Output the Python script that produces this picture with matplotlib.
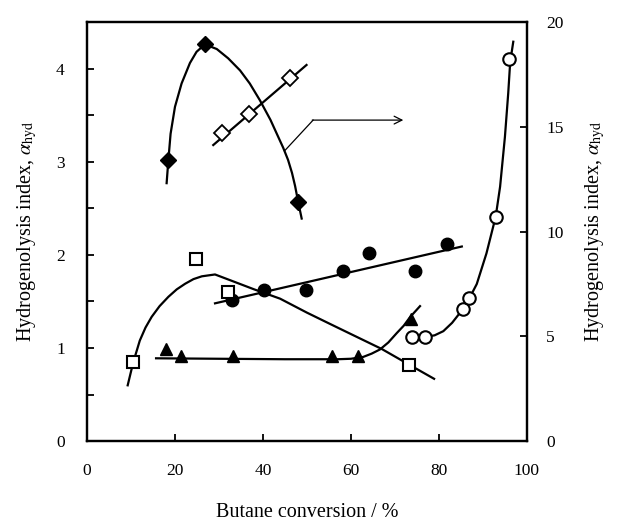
import matplotlib
matplotlib.use("Agg")
import matplotlib.pyplot as plt
from matplotlib.ticker import MultipleLocator

plt.rcParams["font.family"] = ["Liberation Serif", "DejaVu Serif"]
plt.rcParams["mathtext.fontset"] = "stix"

# --- measured points (left axis) ---
diam_x = [18.5, 26.8, 48.0]
diam_y = [3.02, 4.26, 2.57]

circ_x = [32.9, 40.2, 49.8, 58.3, 64.2, 74.5, 81.9]
circ_y = [1.52, 1.62, 1.62, 1.83, 2.02, 1.83, 2.12]

sq_x = [10.5, 24.7, 32.0, 73.3]
sq_y = [0.845, 1.96, 1.60, 0.82]

tri_x = [18.0, 21.3, 33.3, 55.6, 61.7, 73.6]
tri_y = [0.995, 0.91, 0.91, 0.91, 0.91, 1.31]

# --- measured points (right axis) ---
odiam_x = [30.6, 36.8, 46.1]
odiam_y = [14.69, 15.61, 17.31]

ocirc_x = [73.8, 76.8, 85.5, 86.9, 92.9, 96.0]
ocirc_y = [4.98, 4.98, 6.33, 6.81, 10.71, 18.23]

# --- trend curves ---
diam_fit_x = [18.1, 18.5, 19.0, 20.0, 21.5, 23.4, 24.9, 26.8, 29.5, 32.1, 34.8,
              37.0, 39.3, 41.7, 44.6, 45.7, 46.6, 47.3, 48.0, 48.8]
diam_fit_y = [2.77, 3.02, 3.30, 3.59, 3.84, 4.06, 4.18, 4.26, 4.21, 4.11, 3.98,
              3.84, 3.66, 3.45, 3.15, 3.02, 2.88, 2.74, 2.57, 2.39]

circ_fit_x = [29.1, 85.2]
circ_fit_y = [1.48, 2.09]

sq_fit_x = [9.25, 10.5, 12.0, 13.3, 14.7, 16.5, 18.5, 20.4, 22.3, 24.2, 26.1, 29.1,
            33.0, 38.0, 43.9, 50.0, 55.2, 60.0, 67.0, 73.3, 78.9]
sq_fit_y = [0.60, 0.845, 1.08, 1.22, 1.335, 1.45, 1.55, 1.63, 1.69, 1.74, 1.77, 1.79,
            1.72, 1.63, 1.53, 1.38, 1.26, 1.15, 0.99, 0.82, 0.67]

tri_fit_x = [15.7, 30.0, 45.0, 57.0, 60.0, 62.8, 64.7, 66.6, 68.5, 70.4, 72.0, 73.4, 75.7]
tri_fit_y = [0.89, 0.885, 0.88, 0.88, 0.885, 0.905, 0.94, 0.985, 1.06, 1.16, 1.24, 1.33, 1.45]

odiam_fit_x = [28.7, 49.9]
odiam_fit_y = [14.13, 17.95]

ocirc_fit_x = [76.8, 79.0, 81.0, 83.0, 84.5, 85.5, 86.9, 88.6, 90.8, 92.9, 93.9,
               95.0, 95.75, 96.2, 96.9]
ocirc_fit_y = [4.98, 5.05, 5.25, 5.65, 6.05, 6.33, 6.81, 7.50, 8.96, 10.71, 12.14,
               14.52, 16.6, 18.1, 19.06]

x_ticks = [0, 20, 40, 60, 80, 100]
left_ticks = [0, 1, 2, 3, 4]
right_ticks = [0, 5, 10, 15, 20]

fig = plt.figure(figsize=(6.17, 5.24), dpi=100)
ax = fig.add_axes([0.141, 0.158, 0.713, 0.800])
ax2 = ax.twinx()

lw = 1.6
k = "black"

# left axis series
ax.plot(diam_fit_x, diam_fit_y, color=k, lw=lw)
ax.plot(diam_x, diam_y, "D", color=k, ms=8)
ax.plot(circ_fit_x, circ_fit_y, color=k, lw=lw)
ax.plot(circ_x, circ_y, "o", color=k, ms=9)
ax.plot(sq_fit_x, sq_fit_y, color=k, lw=lw)
ax.plot(sq_x, sq_y, "s", mfc="white", mec=k, mew=1.5, ms=8)
ax.plot(tri_fit_x, tri_fit_y, color=k, lw=lw)
ax.plot(tri_x, tri_y, "^", color=k, ms=9)

# right axis series
ax2.plot(odiam_fit_x, odiam_fit_y, color=k, lw=lw)
ax2.plot(odiam_x, odiam_y, "D", mfc="white", mec=k, mew=1.3, ms=8)
ax2.plot(ocirc_fit_x, ocirc_fit_y, color=k, lw=lw)
ax2.plot(ocirc_x, ocirc_y, "o", mfc="white", mec=k, mew=1.5, ms=9)

# pointer from the diamond curve to the right axis
ax2.plot([44.9, 51.4], [13.85, 15.32], color=k, lw=0.9)
ax2.annotate("", xy=(71.9, 15.32), xytext=(51.2, 15.32),
             arrowprops=dict(arrowstyle="->", lw=0.9, color=k,
                             shrinkA=0, shrinkB=0, mutation_scale=14))

ax.set_xlim(0, 100)
ax.set_ylim(0, 4.5)
ax2.set_ylim(0, 20)

ax.set_xticks(x_ticks)
ax.set_yticks(left_ticks)
ax.yaxis.set_minor_locator(MultipleLocator(0.5))
ax2.set_yticks(right_ticks)

ax.tick_params(axis="both", which="both", direction="in", length=5, width=1.3,
               labelsize=12.5, top=False, right=False)
ax.tick_params(axis="x", pad=16)
ax.tick_params(axis="y", which="both", pad=16)
ax2.tick_params(axis="y", direction="in", length=5, width=1.3, labelsize=12.5, pad=14)

for a in (ax, ax2):
    for s in a.spines.values():
        s.set_linewidth(1.6)

label = r"Hydrogenolysis index, $\alpha_{\mathrm{hyd}}$"
ax.set_xlabel("Butane conversion / %", fontsize=14.5, labelpad=17)
ax.set_ylabel(label, fontsize=14.5, labelpad=12)
ax2.set_ylabel(label, fontsize=14.5, labelpad=14)

plt.savefig("out.png", dpi=100)
